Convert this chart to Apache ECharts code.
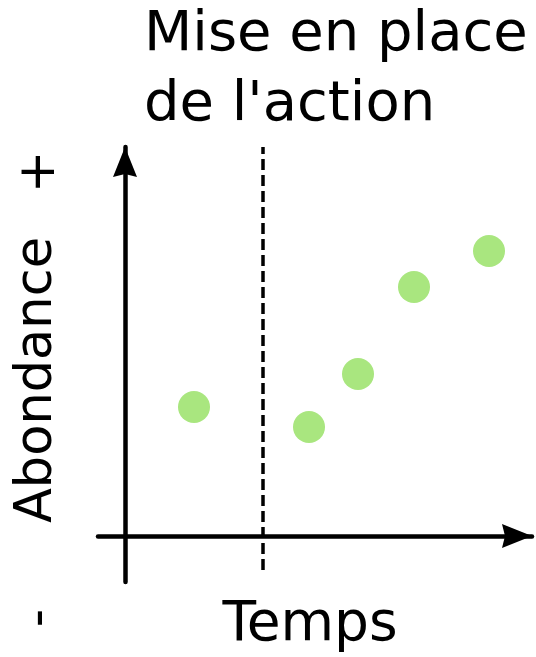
<!DOCTYPE html>
<html>
<head>
<meta charset="utf-8">
<script src="https://cdn.jsdelivr.net/npm/echarts@6/dist/echarts.min.js"></script>
<style>
    html, body { margin: 0; padding: 0; background: #fff; }
    #chart { width: 536px; height: 657px; }
</style>
</head>
<body>
<div id="chart"></div>
<script>
// temps (x) et abondance (y), unités arbitraires, axes à 0
const temps = [0.69, 1.84, 2.33, 2.89, 3.64];
const abondance = [1.29, 1.09, 1.62, 2.49, 2.85];
// mise en place de l'action
const actionTemps = 1.38;
const actionSpan = [-0.34, 3.89];

const titleText = "Mise en place\nde l'action";
const xName = 'Temps';
const yName = 'Abondance';

const font = 'DejaVu Sans';
const arrow = 'path://M12,0 L24,30 L12,27 L0,30 Z';

const chart = echarts.init(document.getElementById('chart'));

const axisCommon = {
    type: 'value',
    axisLine: {
        onZero: true,
        symbol: ['none', arrow],
        symbolSize: [30, 30],
        symbolOffset: [0, -15],
        lineStyle: { color: '#000', width: 4.5 },
    },
    axisTick: { show: false },
    axisLabel: { show: false },
    splitLine: { show: false },
};

const textStyle = (size) => ({
    font: size + 'px "' + font + '"',
    fill: '#000',
    align: 'center',
    verticalAlign: 'middle',
});

chart.setOption({
    animation: false,
    grid: { left: 98, right: 4, top: 147, bottom: 75 },
    xAxis: { ...axisCommon, min: -0.27, max: 4.07 },
    yAxis: { ...axisCommon, min: -0.46, max: 3.89 },
    series: [
        {
            type: 'line',
            data: [[actionTemps, actionSpan[0]], [actionTemps, actionSpan[1]]],
            showSymbol: false,
            clip: false,
            lineStyle: { color: '#000', width: 3.5, type: [11, 5] },
            z: 1,
        },
        {
            type: 'scatter',
            data: temps.map((t, i) => [t, abondance[i]]),
            symbolSize: 32,
            itemStyle: { color: '#a9e67f', opacity: 1 },
            z: 3,
        },
    ],
    graphic: [
        {
            type: 'text',
            x: 144,
            y: 70,
            style: { ...textStyle(56), text: titleText, lineHeight: 70, align: 'left' },
        },
        {
            type: 'text',
            x: 310,
            y: 626,
            style: { ...textStyle(55), text: xName },
        },
        {
            type: 'text',
            x: 38,
            y: 380,
            rotation: Math.PI / 2,
            style: { ...textStyle(51), text: yName },
        },
        {
            type: 'text',
            x: 41,
            y: 172,
            rotation: Math.PI / 2,
            style: { ...textStyle(51), text: '+' },
        },
        {
            type: 'text',
            x: 41,
            y: 618,
            rotation: Math.PI / 2,
            style: { ...textStyle(51), text: '-' },
        },
    ],
});
</script>
</body>
</html>
